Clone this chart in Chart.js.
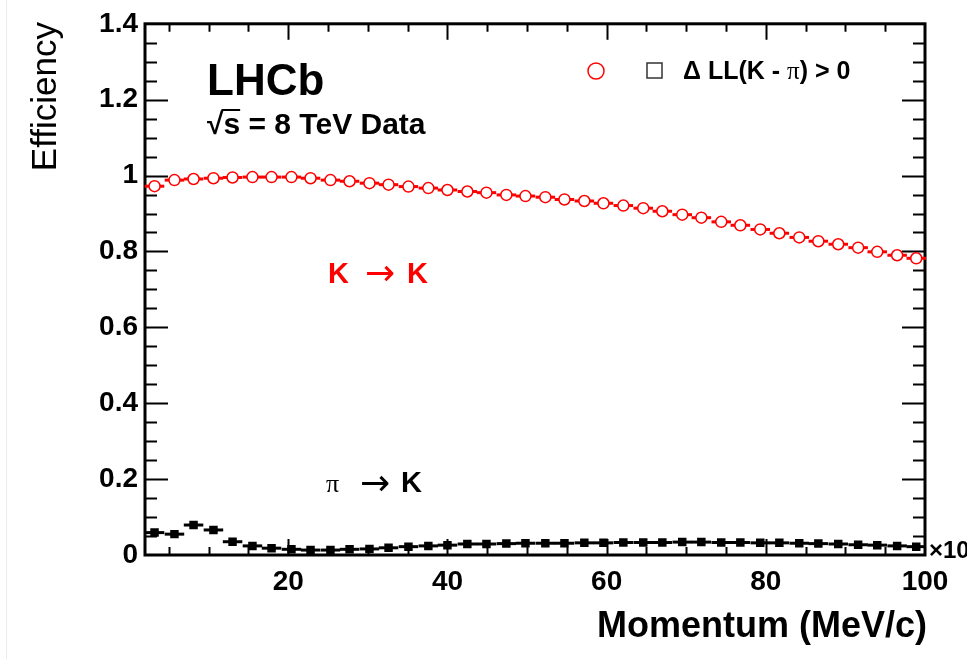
<!DOCTYPE html>
<html>
<head>
<meta charset="utf-8">
<script src="https://cdn.jsdelivr.net/npm/chart.js@4"></script>
<style>
  body { margin: 0; background: #fff; }
  canvas { display: block; }
</style>
</head>
<body>
<canvas id="eff" width="967" height="659"></canvas>
<script>
// bin centres of momentum (x10^3 MeV/c)
const momentum = [3.2, 5.7, 8.1, 10.6, 13.0, 15.5, 17.9, 20.4, 22.8, 25.3,
                  27.7, 30.2, 32.6, 35.1, 37.6, 40.0, 42.5, 44.9, 47.4, 49.8,
                  52.3, 54.7, 57.2, 59.6, 62.1, 64.6, 67.0, 69.5, 71.9, 74.4,
                  76.8, 79.3, 81.7, 84.2, 86.6, 89.1, 91.6, 94.0, 96.5, 98.9];
const binHalfWidth = 1.225;

// K -> K efficiency
const effKK = [0.972, 0.988, 0.991, 0.993, 0.995, 0.996, 0.996, 0.996, 0.993, 0.988,
               0.985, 0.980, 0.976, 0.971, 0.967, 0.962, 0.958, 0.955, 0.949, 0.946,
               0.943, 0.937, 0.933, 0.927, 0.921, 0.914, 0.906, 0.897, 0.889, 0.878,
               0.869, 0.858, 0.848, 0.837, 0.827, 0.819, 0.810, 0.799, 0.790, 0.782];

// pi -> K misidentification
const effPiK = [0.059, 0.055, 0.079, 0.066, 0.035, 0.024, 0.018, 0.015, 0.013, 0.013,
                0.015, 0.016, 0.019, 0.022, 0.024, 0.026, 0.029, 0.029, 0.030, 0.031,
                0.031, 0.031, 0.032, 0.032, 0.033, 0.033, 0.033, 0.034, 0.034, 0.033,
                0.033, 0.032, 0.032, 0.031, 0.030, 0.029, 0.027, 0.026, 0.024, 0.022];

const xTicks = [20, 40, 60, 80, 100];
const yTicks = [0, 0.2, 0.4, 0.6, 0.8, 1, 1.2, 1.4];

const SANS = '"Liberation Sans", Arial, Helvetica, sans-serif';
const SERIF = '"Liberation Serif", "Times New Roman", serif';
const ARROW = '"DejaVu Sans", sans-serif';

function pts(ys) {
    return momentum.map((m, i) => ({ x: m, y: ys[i] }));
}

// horizontal bars for the bin width, drawn under the markers
const errorBars = {
    id: 'errorBars',
    beforeDatasetsDraw(chart) {
        const ctx = chart.ctx;
        const xs = chart.scales.x, ys = chart.scales.y;
        ctx.save();
        chart.data.datasets.forEach(ds => {
            ctx.strokeStyle = ds.borderColor;
            ctx.lineWidth = ds.barWidth;
            ds.data.forEach(p => {
                const y = ys.getPixelForValue(p.y);
                ctx.beginPath();
                ctx.moveTo(xs.getPixelForValue(p.x - binHalfWidth), y);
                ctx.lineTo(xs.getPixelForValue(p.x + binHalfWidth), y);
                ctx.stroke();
            });
        });
        ctx.restore();
    }
};

// ROOT style frame with inward ticks on all four sides
const frame = {
    id: 'frame',
    beforeDatasetsDraw(chart) {
        const ctx = chart.ctx;
        const a = chart.chartArea;
        const xs = chart.scales.x, ys = chart.scales.y;
        ctx.save();
        ctx.strokeStyle = '#000';
        ctx.lineWidth = 2;
        ctx.beginPath();
        for (let v = 5; v < 100; v += 5) {
            const len = v % 20 === 0 ? 16 : 8;
            const x = Math.round(xs.getPixelForValue(v)) + 0.5;
            ctx.moveTo(x, a.bottom); ctx.lineTo(x, a.bottom - len);
            ctx.moveTo(x, a.top); ctx.lineTo(x, a.top + len);
        }
        for (let k = 1; k < 28; k++) {
            const len = k % 4 === 0 ? 23 : 12;
            const y = Math.round(ys.getPixelForValue(k * 0.05)) + 0.5;
            ctx.moveTo(a.left, y); ctx.lineTo(a.left + len, y);
            ctx.moveTo(a.right, y); ctx.lineTo(a.right - len, y);
        }
        ctx.stroke();
        ctx.lineWidth = 3;
        ctx.strokeRect(a.left, a.top, a.right - a.left, a.bottom - a.top);
        ctx.restore();
    }
};

// titles, labels and legend
const annotations = {
    id: 'annotations',
    afterDraw(chart) {
        const ctx = chart.ctx;
        ctx.save();

        // faint page edge of the original screenshot
        ctx.fillStyle = '#ececec';
        ctx.fillRect(6, 0, 1, 659);
        ctx.fillStyle = '#000';

        // y title
        ctx.save();
        ctx.translate(56, 22);
        ctx.rotate(-Math.PI / 2);
        ctx.textAlign = 'right';
        ctx.textBaseline = 'alphabetic';
        ctx.font = '35px ' + SANS;
        ctx.fillText('Efficiency', 0, 0);
        ctx.restore();

        // x title
        ctx.textAlign = 'right';
        ctx.font = 'bold 36px ' + SANS;
        ctx.fillText('Momentum (MeV/c)', 927, 637);

        // exponent
        ctx.textAlign = 'left';
        ctx.font = 'bold 24px ' + SANS;
        ctx.fillText('\u00d710\u00b3', 929, 558);

        // LHCb label
        ctx.font = 'bold 44px ' + SANS;
        ctx.fillText('LHCb', 207, 95);
        ctx.font = 'bold 30px ' + SANS;
        const wRoot = ctx.measureText('\u221a').width;
        const wS = ctx.measureText('s').width;
        ctx.fillText('\u221as = 8 TeV Data', 207, 134);
        ctx.lineWidth = 2;
        ctx.beginPath();
        ctx.moveTo(207 + wRoot - 2, 110);
        ctx.lineTo(207 + wRoot + wS, 110);
        ctx.stroke();

        // K -> K
        ctx.fillStyle = '#ff0000';
        ctx.font = 'bold 29px ' + SANS;
        ctx.textAlign = 'left';
        ctx.fillText('K', 328, 283);
        ctx.textAlign = 'right';
        ctx.fillText('K', 428, 283);
        ctx.textAlign = 'center';
        ctx.font = '36px ' + ARROW;
        ctx.fillText('\u2192', 380, 285);

        // pi -> K
        ctx.fillStyle = '#000';
        ctx.textAlign = 'left';
        ctx.font = '26px ' + SERIF;
        ctx.fillText('\u03c0', 326, 492);
        ctx.textAlign = 'center';
        ctx.font = '36px ' + ARROW;
        ctx.fillText('\u2192', 375, 495);
        ctx.textAlign = 'left';
        ctx.font = 'bold 29px ' + SANS;
        ctx.fillText('K', 401, 492);

        // legend
        ctx.lineWidth = 1.5;
        ctx.strokeStyle = '#ff0000';
        ctx.beginPath();
        ctx.arc(596, 71, 8, 0, Math.PI * 2);
        ctx.stroke();
        ctx.strokeStyle = '#333';
        ctx.strokeRect(647, 63, 15, 15);
        let x = 683;
        ctx.fillStyle = '#000';
        ctx.font = 'bold 25px ' + SANS;
        ctx.fillText('\u0394 LL(K - ', x, 79);
        x += ctx.measureText('\u0394 LL(K - ').width;
        ctx.font = '25px ' + SERIF;
        ctx.fillText('\u03c0', x, 79);
        x += ctx.measureText('\u03c0').width;
        ctx.font = 'bold 25px ' + SANS;
        ctx.fillText(') > 0', x, 79);
        ctx.restore();
    }
};

new Chart(document.getElementById('eff'), {
    type: 'scatter',
    data: {
        datasets: [
            {
                label: 'K \u2192 K',
                data: pts(effKK),
                pointStyle: 'circle',
                pointRadius: 5.5,
                borderWidth: 1.5,
                borderColor: '#ff0000',
                backgroundColor: '#ffffff',
                barWidth: 3
            },
            {
                label: '\u03c0 \u2192 K',
                data: pts(effPiK),
                pointStyle: 'rect',
                pointRadius: 6,
                borderWidth: 0,
                borderColor: '#000000',
                backgroundColor: '#000000',
                barWidth: 3
            }
        ]
    },
    options: {
        responsive: false,
        devicePixelRatio: 1,
        animation: false,
        layout: { padding: { top: 22, right: 42, left: 0, bottom: 0 } },
        plugins: {
            legend: { display: false },
            tooltip: { enabled: false }
        },
        scales: {
            x: {
                type: 'linear',
                min: 2,
                max: 100,
                grid: { display: false, drawTicks: false },
                border: { display: false },
                afterBuildTicks: s => { s.ticks = xTicks.map(v => ({ value: v })); },
                afterFit: s => { s.height = 104; },
                ticks: {
                    color: '#000',
                    padding: 10,
                    maxRotation: 0,
                    font: { family: SANS, size: 28, weight: 'bold' }
                }
            },
            y: {
                min: 0,
                max: 1.4,
                grid: { display: false, drawTicks: false },
                border: { display: false },
                afterBuildTicks: s => { s.ticks = yTicks.map(v => ({ value: v })); },
                afterFit: s => { s.width = 145; },
                ticks: {
                    color: '#000',
                    padding: 7,
                    font: { family: SANS, size: 28, weight: 'bold' },
                    callback: v => String(Math.round(v * 10) / 10)
                }
            }
        }
    },
    plugins: [frame, errorBars, annotations]
});
</script>
</body>
</html>
